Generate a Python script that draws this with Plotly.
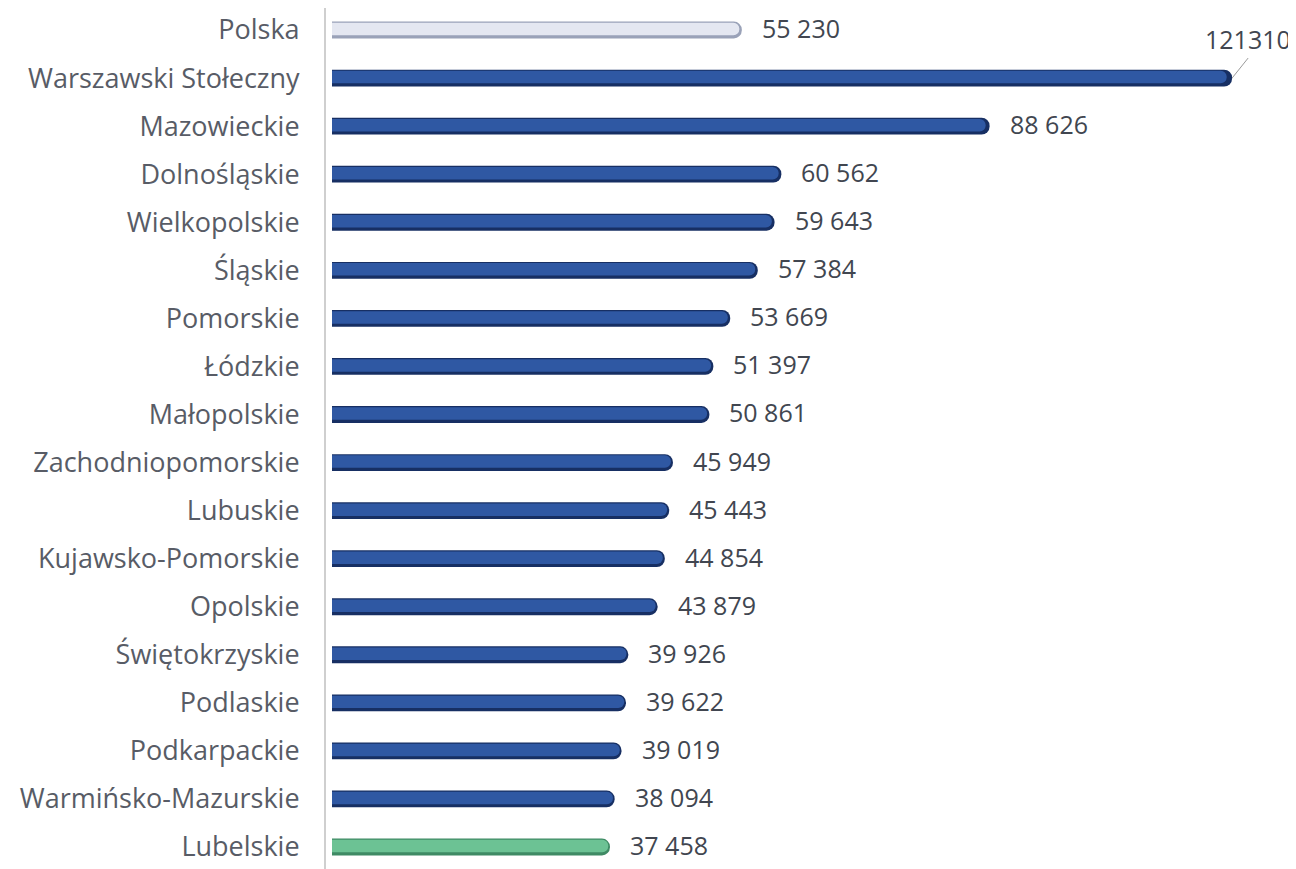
import plotly.graph_objects as go

regions = ["Polska", "Warszawski Stołeczny", "Mazowieckie", "Dolnośląskie", "Wielkopolskie",
           "Śląskie", "Pomorskie", "Łódzkie", "Małopolskie", "Zachodniopomorskie", "Lubuskie",
           "Kujawsko-Pomorskie", "Opolskie", "Świętokrzyskie", "Podlaskie", "Podkarpackie",
           "Warmińsko-Mazurskie", "Lubelskie"]
values = [55230, 121310, 88626, 60562, 59643, 57384, 53669, 51397, 50861, 45949, 45443,
          44854, 43879, 39926, 39622, 39019, 38094, 37458]

base_colors = []
hi_colors = []
for r in regions:
    if r == "Polska":
        base_colors.append("#9aa2b8"); hi_colors.append("#e4e7f1")
    elif r == "Lubelskie":
        base_colors.append("#3f8a64"); hi_colors.append("#6cc294")
    else:
        base_colors.append("#172f63"); hi_colors.append("#2f58a3")

def fmt(v):
    return f"{v:,}".replace(",", " ")

fig = go.Figure()
fig.add_trace(go.Bar(x=values, y=regions, orientation="h", width=0.35,
                     marker=dict(color=base_colors, cornerradius=8, line=dict(width=0)),
                     hoverinfo="skip", showlegend=False))
fig.add_trace(go.Bar(x=[v * 0.994 for v in values], y=regions, orientation="h", width=0.26,
                     offset=-0.15,
                     marker=dict(color=hi_colors, cornerradius=6, line=dict(width=0)),
                     hoverinfo="skip", showlegend=False))

label_font = dict(family="Open Sans", size=25, color="#414650")
for r, v in zip(regions, values):
    if r == "Warszawski Stołeczny":
        fig.add_annotation(x=v, y=r, text=str(v), showarrow=True, arrowhead=0,
                           arrowwidth=1, arrowcolor="#9a9a9a", ax=16, ay=-20,
                           xanchor="center", yanchor="bottom", font=label_font)
    else:
        fig.add_annotation(x=v, y=r, text=fmt(v), showarrow=False, xanchor="left",
                           xshift=18, yshift=2, font=label_font)

fig.update_layout(
    width=1296, height=869,
    margin=dict(l=318, r=0, t=0, b=0),
    paper_bgcolor="white", plot_bgcolor="white",
    barmode="overlay",
    xaxis=dict(range=[-808, 130998], showgrid=False, zeroline=False, showticklabels=False,
               showline=False, automargin=False),
    yaxis=dict(categoryorder="array", categoryarray=regions, range=[17.624, -0.458],
               showgrid=False, zeroline=False, showline=True, linecolor="#cfcfcf", linewidth=2,
               ticks="", ticklabelstandoff=19, automargin=False,
               tickfont=dict(family="Open Sans", size=27, color="#585c66")),
)
fig.write_html("out.html")
